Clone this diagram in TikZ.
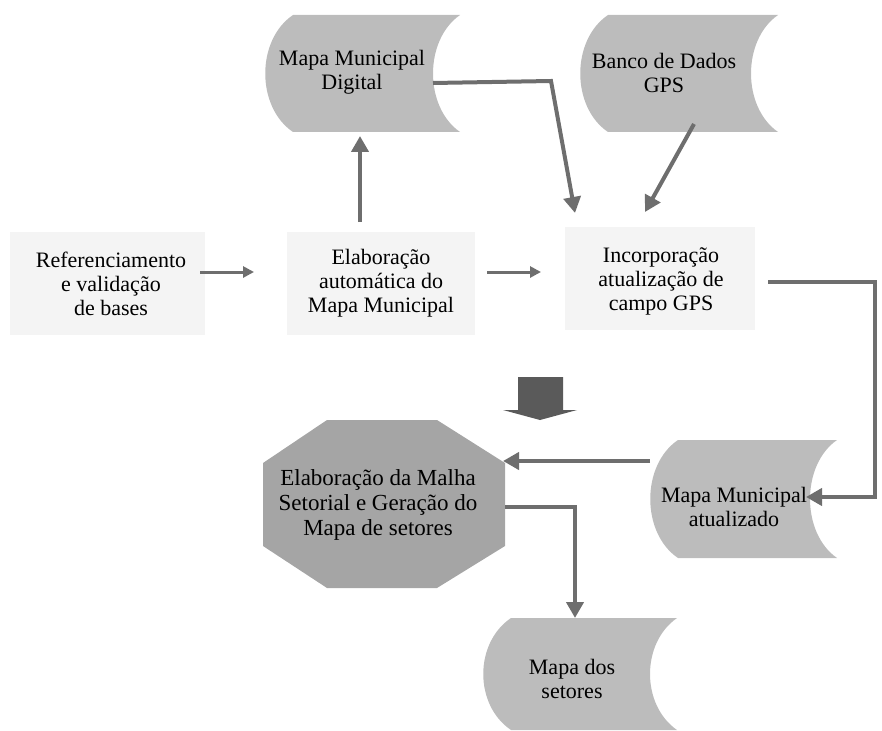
\documentclass[tikz,border=0pt]{standalone}
\usepackage{fontspec}
\setmainfont{Liberation Serif}
\usetikzlibrary{arrows.meta}
\definecolor{shapegray}{RGB}{188,188,188}
\definecolor{octgray}{RGB}{165,165,165}
\definecolor{linegray}{RGB}{110,110,110}
\definecolor{boxgray}{RGB}{244,244,244}
\definecolor{bigarrowgray}{RGB}{90,90,90}
\newcommand{\datashape}[4]{%
  \fill[shapegray] (#1+28,#2) -- (#3,#2)
    .. controls (#3-36,#2+25) and (#3-36,#4-25) .. (#3,#4)
    -- (#1+28,#4)
    .. controls (#1-9,#4-25) and (#1-9,#2+25) .. (#1+28,#2) -- cycle;}
\tikzset{
  txt/.style={align=center, font=\fontsize{22}{24}\selectfont, inner sep=0pt},
  mainarrow/.style={line width=4pt, draw=linegray, -{Triangle[length=16pt,width=17pt]}},
  smallarrow/.style={line width=3pt, draw=linegray, -{Triangle[length=11pt,width=11pt]}},
  lightbox/.style={fill=boxgray},
}
\begin{document}
\begin{tikzpicture}[x=1pt,y=-1pt]
\useasboundingbox (0,0) rectangle (882,730);

% data shapes
\datashape{265}{15}{460}{132}
\datashape{580}{15}{778}{132}
\datashape{650}{440}{837}{558}
\datashape{483}{618}{677}{730}

% light boxes
\fill[lightbox] (10,232) rectangle (205,335);
\fill[lightbox] (287,232) rectangle (475,335);
\fill[lightbox] (565,227) rectangle (755,330);

% octagon
\fill[octgray] (327,420) -- (437,420) -- (505,463) -- (505,546) -- (437,588)
  -- (327,588) -- (263,546) -- (263,463) -- cycle;

% big block arrow
\fill[bigarrowgray] (518,377) -- (563,377) -- (563,410) -- (577,410) -- (540,420)
  -- (503,410) -- (518,410) -- cycle;

% texts
\node[txt] (mmd) at (352,72) {Mapa Municipal\\Digital};
\node[txt] (banco) at (664,73) {Banco de Dados\\GPS};
\node[txt] (ref) at (111,284) {Referenciamento\\e validação\\de bases};
\node[txt] (elab) at (381,283) {Elaboração\\automática do\\Mapa Municipal};
\node[txt] (incorp) at (661,281) {Incorporação\\atualização de\\campo GPS};
\node[txt] (atual) at (734,507) {Mapa Municipal\\atualizado};
\node[txt, font=\fontsize{23}{25}\selectfont] (oct) at (378,505) {Elaboração da Malha\\Setorial e Geração do\\Mapa de setores};
\node[txt] (setores) at (572,679) {Mapa dos\\setores};

% connector coordinates
\coordinate (refR) at (200,272);
\coordinate (elabL) at (254,272);
\coordinate (elabR) at (487,272);
\coordinate (incL) at (541,272);
\coordinate (elabT) at (360,222);
\coordinate (mmdB) at (360,136);
\coordinate (mmdR) at (433,83);
\coordinate (mmdK) at (551,81);
\coordinate (incT1) at (575,213);
\coordinate (bancoB) at (694,124);
\coordinate (incT2) at (645,212);
\coordinate (incR) at (768,282);
\coordinate (k1) at (875,282);
\coordinate (k2) at (875,497);
\coordinate (atualR) at (806,497);
\coordinate (atualL) at (650,461);
\coordinate (octR) at (503,461);
\coordinate (octR2) at (505,507);
\coordinate (k3) at (575,507);
\coordinate (setT) at (575,618);

\draw[smallarrow] (refR) -- (elabL);
\draw[smallarrow] (elabR) -- (incL);
\draw[mainarrow] (elabT) -- (mmdB);
\draw[mainarrow, line join=miter] (mmdR) -- (mmdK) -- (incT1);
\draw[mainarrow] (bancoB) -- (incT2);
\draw[mainarrow, line join=miter] (incR) -- (k1) -- (k2) -- (atualR);
\draw[mainarrow] (atualL) -- (octR);
\draw[mainarrow, line join=miter] (octR2) -- (k3) -- (setT);
\end{tikzpicture}
\end{document}
